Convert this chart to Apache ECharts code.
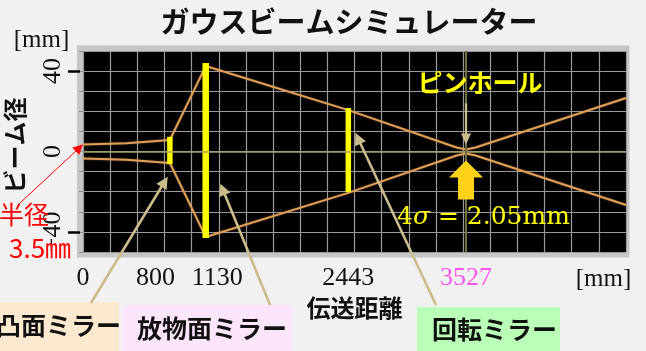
<!DOCTYPE html>
<html>
<head>
<meta charset="utf-8">
<script src="https://cdn.jsdelivr.net/npm/echarts@6/dist/echarts.min.js"></script>
<style>
  html, body { margin: 0; padding: 0; background: #f1f1f1; }
  #chart { width: 646px; height: 351px; }
</style>
</head>
<body>
<div id="chart"></div>
<script>
// Beam envelope: distance along the optical path [mm] and beam radius [mm]
const distance   = [0, 400, 800, 1130, 2443, 3440, 3527, 3615, 5000];
const beamRadius = [3.5, 4.1, 5.7, 42.5, 20.6, 2.0, 1.025, 2.0, 26.6];

// Optical elements along the path
const mirrorNames  = ['凸面ミラー', '放物面ミラー', '回転ミラー'];
const mirrorPos    = [800, 1130, 2443];
const mirrorTop    = [7.3, 44, 21.6];
const mirrorBottom = [-6.3, -43, -20.2];
const pinholePos   = 3527;
const waist4Sigma  = 2.05;   // beam diameter (4σ) at the pinhole [mm]

// Axis labels
const xTickLabels = [0, 800, 1130, 2443, 3527];
const yTickLabels = [-40, 0, 40];
const yDashTicks  = [-40, 40];

const JP = '"Noto Sans CJK JP", "Noto Sans CJK SC", sans-serif';
const SERIF = '"Liberation Serif", "DejaVu Serif", serif';

const GRID = { left: 83, top: 51, width: 543, height: 201 };

const chart = echarts.init(document.getElementById('chart'), null, { renderer: 'canvas' });

const option = {
  backgroundColor: '#f1f1f1',
  animation: false,
  grid: {
    left: GRID.left, top: GRID.top, width: GRID.width, height: GRID.height,
    outerBoundsMode: 'none', containLabel: false,
    show: true, backgroundColor: '#000', borderWidth: 0
  },
  xAxis: {
    type: 'value', min: 0, max: 5000, interval: 250,
    name: '伝送距離', nameLocation: 'middle', nameGap: 40,
    nameTextStyle: { fontFamily: JP, fontWeight: 'bold', fontSize: 24, color: '#111' },
    axisLine: { show: false },
    axisTick: { show: true, length: 4, lineStyle: { color: '#8c8c8c', width: 1 } },
    axisLabel: {
      customValues: xTickLabels, margin: 13,
      fontFamily: SERIF, fontSize: 26, color: '#111',
      formatter: function (v) {
        if (v === mirrorPos[0]) return '{l|' + v + '}';
        if (v === mirrorPos[1]) return '{r|' + v + '}';
        if (v === pinholePos) return '{p|' + v + '}';
        return '{n|' + v + '}';
      },
      rich: {
        n: { fontFamily: SERIF, fontSize: 26, color: '#111' },
        l: { fontFamily: SERIF, fontSize: 26, color: '#111', padding: [0, 29, 0, 0] },
        r: { fontFamily: SERIF, fontSize: 26, color: '#111', padding: [0, 0, 0, 23] },
        p: { fontFamily: SERIF, fontSize: 26, color: '#ff55ee' }
      }
    },
    splitLine: { show: true, lineStyle: { color: '#9a9a9a', width: 1.2 } }
  },
  yAxis: [
    {
      type: 'value', min: -50, max: 50, interval: 10,
      name: 'ビーム径', nameLocation: 'middle', nameRotate: 90, nameGap: 56,
      nameTextStyle: { fontFamily: JP, fontWeight: 'bold', fontSize: 24, color: '#111', padding: [0, 0, 0, 12] },
      axisLine: { show: false },
      axisTick: { show: true, length: 4, lineStyle: { color: '#8c8c8c', width: 1 } },
      axisLabel: {
        customValues: yTickLabels, rotate: 90, margin: 17,
        fontFamily: SERIF, fontSize: 26, color: '#111',
        formatter: function (v) { return v < 0 ? '\u2212' + Math.abs(v) : String(v); }
      },
      splitLine: { show: true, lineStyle: { color: '#9a9a9a', width: 1.2 } }
    },
    {
      type: 'value', min: -50, max: 50, position: 'left', offset: 3,
      axisLine: { show: false },
      axisLabel: { show: false },
      splitLine: { show: false },
      axisTick: { show: true, customValues: yDashTicks, length: 12, lineStyle: { color: '#000', width: 2.5 } }
    }
  ],
  series: [
    {
      // optical axis and pinhole position
      type: 'line', data: [], z: 1, silent: true,
      markLine: {
        silent: true, symbol: 'none', label: { show: false },
        data: [
          { yAxis: 0, lineStyle: { color: '#a0a064', width: 1.5, type: 'solid' } },
          { xAxis: pinholePos, lineStyle: { color: '#6f6f3e', width: 2, type: 'solid' } }
        ]
      }
    },
    {
      type: 'line', symbol: 'none', z: 3, silent: true,
      data: distance.map((d, i) => [d, beamRadius[i]]),
      lineStyle: { color: '#e09e58', width: 2, shadowColor: 'rgba(224,158,88,0.5)', shadowBlur: 2 }
    },
    {
      type: 'line', symbol: 'none', z: 3, silent: true,
      data: distance.map((d, i) => [d, -beamRadius[i]]),
      lineStyle: { color: '#e09e58', width: 2, shadowColor: 'rgba(224,158,88,0.5)', shadowBlur: 2 }
    },
    {
      // mirror apertures
      type: 'custom', z: 4, silent: true,
      data: mirrorPos.map((p, i) => [p, mirrorBottom[i], mirrorTop[i]]),
      encode: { x: 0, y: [1, 2] },
      renderItem: function (params, api) {
        const x = api.value(0);
        const lo = api.coord([x, api.value(1)]);
        const hi = api.coord([x, api.value(2)]);
        const w = params.dataIndex === 1 ? 6.5 : 5.5;
        return {
          type: 'rect',
          shape: { x: lo[0] - w / 2, y: hi[1], width: w, height: lo[1] - hi[1] },
          style: { fill: '#ffff00' }
        };
      }
    }
  ]
};

chart.setOption(option);

const px = (x, y) => chart.convertToPixel({ xAxisIndex: 0, yAxisIndex: 0 }, [x, y]);

function arrow(from, to, color, width, headLen, headHalf) {
  const dx = to[0] - from[0], dy = to[1] - from[1];
  const len = Math.hypot(dx, dy);
  const ux = dx / len, uy = dy / len;
  const bx = to[0] - ux * headLen, by = to[1] - uy * headLen;
  return [
    { type: 'line', z: 50, silent: true,
      shape: { x1: from[0], y1: from[1], x2: bx + ux, y2: by + uy },
      style: { stroke: color, lineWidth: width } },
    { type: 'polygon', z: 50, silent: true,
      shape: { points: [to, [bx - uy * headHalf, by + ux * headHalf], [bx + uy * headHalf, by - ux * headHalf]] },
      style: { fill: color } }
  ];
}

function text(str, x, y, font, fill, align, extra) {
  return Object.assign({
    type: 'text', z: 60, silent: true,
    style: {
      text: str, x: x, y: y, font: font, fill: fill,
      align: align || 'left', verticalAlign: 'middle',
      textAlign: align || 'left', textVerticalAlign: 'middle'
    }
  }, extra || {});
}

function box(x, y, w, h, fill) {
  return { type: 'rect', z: 40, silent: true, shape: { x: x, y: y, width: w, height: h }, style: { fill: fill } };
}

const TAN = '#c9bc8c';
const pin = px(pinholePos, 0);
const g = [];

// grey frame around the plotting area
g.push({ type: 'rect', z: -1, silent: true,
  shape: { x: GRID.left - 6, y: GRID.top - 5.5, width: GRID.width + 9.5, height: GRID.height + 11 },
  style: { fill: '#c6c6c6' } });

// title and unit labels
g.push(text('ガウスビームシミュレーター', 349, 22, 'bold 29px ' + JP, '#111', 'center'));
g.push(text('[mm]', 41.5, 40, '25px ' + SERIF, '#111', 'center'));
g.push(text('[mm]', 603.5, 279, '25px ' + SERIF, '#111', 'center'));

// element name boxes
g.push(box(0, 302, 119, 49, '#fde8d0'));
g.push(text(mirrorNames[0], -4, 325, 'bold 25px ' + JP, '#111', 'left'));
g.push(box(123, 305, 169, 46, '#fde5fb'));
g.push(text(mirrorNames[1], 137, 328, 'bold 25px ' + JP, '#111', 'left'));
g.push(box(417, 307, 143, 44, '#b9ffb8'));
g.push(text(mirrorNames[2], 432, 329, 'bold 25px ' + JP, '#111', 'left'));

// pointers to the elements
g.push(...arrow([91, 303], px(mirrorPos[0] - 20, -12.5), TAN, 2.6, 12, 6));
g.push(...arrow([270, 305], px(mirrorPos[1] + 135, -16), TAN, 2.6, 12, 6));
g.push(...arrow([436, 305], px(mirrorPos[2] + 65, 9.3), TAN, 2.6, 12, 6));
g.push(...arrow(px(pinholePos, 24), px(pinholePos, 3.5), TAN, 2.2, 11, 5));

// pinhole label and waist marker
g.push(text('ピンホール', pin[0] + 14, 82, 'bold 25px ' + JP, '#ffff00', 'center'));
g.push({ type: 'polygon', z: 55, silent: true,
  shape: { points: [
    [pin[0], pin[1] + 9], [pin[0] + 17, pin[1] + 26], [pin[0] + 8, pin[1] + 26],
    [pin[0] + 8, pin[1] + 48], [pin[0] - 8, pin[1] + 48], [pin[0] - 8, pin[1] + 26],
    [pin[0] - 17, pin[1] + 26]
  ] },
  style: { fill: '#ffd21a' } });
g.push({ type: 'text', z: 60, silent: true,
  style: {
    text: '{a|4}{s|σ}{a| = ' + waist4Sigma.toFixed(2) + 'mm}',
    x: 397, y: 217, align: 'left', verticalAlign: 'middle',
    textAlign: 'left', textVerticalAlign: 'middle',
    fill: '#ffff00',
    rich: {
      a: { fontFamily: '"DejaVu Serif", serif', fontSize: 25, fill: '#ffff00', color: '#ffff00' },
      s: { fontFamily: '"DejaVu Serif", serif', fontSize: 25, fontStyle: 'italic', fill: '#ffff00', color: '#ffff00' }
    }
  } });

// input beam radius note
g.push(...arrow([20, 203], px(distance[0], beamRadius[0]), '#ff0000', 1, 10, 5));
g.push(text('半径', -1, 214, '25px ' + JP, '#ff0000', 'left'));
g.push(text(beamRadius[0].toFixed(1) + '㎜', 9, 248, '26px ' + JP, '#ff0000', 'left'));

chart.setOption({ graphic: { elements: g } });
</script>
</body>
</html>
